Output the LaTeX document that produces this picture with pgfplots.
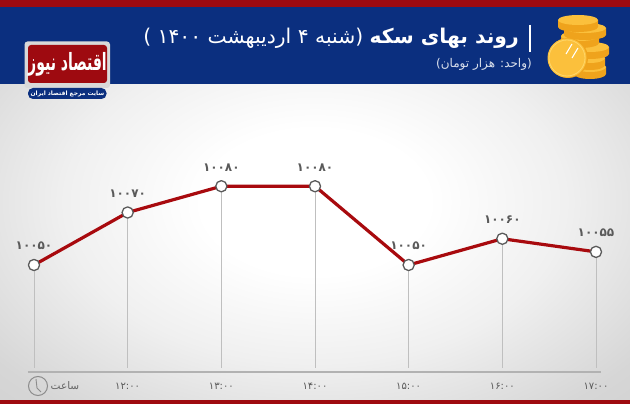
\documentclass[border=0pt]{standalone}
\usepackage{pgfplots}
\pgfplotsset{compat=1.18}
\usepackage{pgfplotstable}
\usepackage{fontspec}
\setmainfont{DejaVu Sans}
\newfontfamily\fa[Script=Arabic]{DejaVu Sans}
\TeXXeTstate=1
\definecolor{navy}{HTML}{0B2F7F}
\definecolor{bandred}{HTML}{9E0A10}
\definecolor{linered}{HTML}{A80A0E}
\definecolor{txtgray}{HTML}{5A5A5A}
\definecolor{gold}{HTML}{FBC03C}
\definecolor{golddark}{HTML}{EFA31C}
\definecolor{goldlight}{HTML}{FFD76A}
\newcommand{\fatext}[1]{{\fa\beginR #1\endR}}
\pgfdeclareradialshading{bgshade}{\pgfpointorigin}{color(0bp)=(white); color(9bp)=(white); color(20bp)=(black!6); color(32bp)=(black!16); color(50bp)=(black!22)}
\newcommand{\lA}{۱۰۰۵۰}
\newcommand{\lB}{۱۰۰۷۰}
\newcommand{\lC}{۱۰۰۸۰}
\newcommand{\lD}{۱۰۰۶۰}
\newcommand{\lE}{۱۰۰۵۵}
\pgfplotstableread{
x y e lab
0 10050 39.24 \lA
1 10070 59.24 \lB
2 10080 69.24 \lC
3 10080 69.24 \lC
4 10050 39.24 \lA
5 10060 49.24 \lD
6 10055 44.24 \lE
}\coindata
\begin{document}
\begin{tikzpicture}[x=1pt,y=1pt]
\useasboundingbox (0,0) rectangle (630,404);
\path[shading=bgshade] (0,0) rectangle (630,404);
\begin{scope}[shift={(0,404)},y=-1pt]
\fill[bandred] (0,0) rectangle (630,7);
\fill[navy] (0,7) rectangle (630,84);
\fill[bandred] (0,400.5) rectangle (630,404);
% title
\node[text=white,anchor=east,inner sep=0pt] at (519,38) {\fontsize{20.3}{22}\selectfont\fatext{{\bfseries روند بهای سکه} (شنبه ۴ اردیبهشت ۱۴۰۰ )}};
\draw[white,line width=1.5pt] (530,25) -- (530,52);
\node[text=white!85!navy,font=\fontsize{12}{14}\selectfont,anchor=east,inner sep=0pt] at (532,64) {\fatext{(واحد: هزار تومان)}};
% coins
\foreach \cx/\cy/\rx in {590/67/16,590/58/15,590/47/19,580/36/19,585/28/21,578/20/20}{
  \fill[golddark] (\cx-\rx,\cy) -- (\cx-\rx,\cy+7) arc[x radius=\rx,y radius=5,start angle=180,end angle=0] -- (\cx+\rx,\cy) -- cycle;
  \fill[gold] (\cx,\cy) ellipse[x radius=\rx,y radius=5];
}
\fill[golddark] (568,58) circle (20);
\fill[gold] (567,58) circle (19.5);
\draw[goldlight,line width=0.8pt] (567,58) circle (18);
\draw[white,line width=1.1pt] (572,44)--(566,54) (578,48)--(572,58);
% logo
\fill[black!15,rounded corners=3pt] (24.5,41.5) rectangle (110,88);
\fill[bandred,rounded corners=3pt] (28,45) rectangle (107,83);
\node[text=white,inner sep=0pt] at (67.5,64) {\scalebox{1.0}[1.7]{\fontsize{14}{16}\selectfont\bfseries\fatext{اقتصاد نیوز}}};
\fill[navy,rounded corners=5pt] (28,88) rectangle (106.5,99);
\node[text=white,font=\bfseries\fontsize{6}{7}\selectfont,inner sep=0pt] at (67.5,93.5) {\fatext{سایت مرجع اقتصاد ایران}};
% clock and axis caption
\draw[black!45,line width=1pt] (38,386) circle (9.5);
\draw[black!45,line width=0.9pt] (36,379)--(37,388)--(41,392);
\node[text=black!60,font=\fontsize{10.5}{12}\selectfont] at (65,386) {\fatext{ساعت}};
\end{scope}
\begin{axis}[
  at={(0pt,32pt)},anchor=south west,
  scale only axis,width=630pt,height=288pt,
  xmin=-0.363,xmax=6.363,
  ymin=10009.24,ymax=10118.95,
  axis x line=bottom,axis y line=none,
  x axis line style={draw=none,-},
  xtick={1,...,6},
  xticklabels={۱۲:۰۰,۱۳:۰۰,۱۴:۰۰,۱۵:۰۰,۱۶:۰۰,۱۷:۰۰},
  xticklabel style={font=\fa\fontsize{10}{12}\selectfont,text=black!65,anchor=center,yshift=-14pt},
  major tick length=0pt,
  clip=false,
]
\addplot[black!30,line width=1.2pt,forget plot] coordinates {(-0.065,10009.24)(6.05,10009.24)};
\addplot[draw=none,forget plot,
  error bars/.cd,y dir=minus,y explicit,error mark=none,
  error bar style={black!25,line width=0.7pt}]
  table[x=x,y=y,y error minus=e]{\coindata};
\addplot[linered,line width=3.2pt,line join=round,
  mark=*,mark size=5.6pt,
  mark options={fill=white,draw=txtgray,line width=1.3pt},
  point meta=explicit symbolic,
  nodes near coords,
  nodes near coords style={font=\fa\bfseries\fontsize{12}{13}\selectfont,text=txtgray,yshift=11pt},
  ] table[x=x,y=y,meta=lab]{\coindata};
\end{axis}
\end{tikzpicture}
\end{document}
